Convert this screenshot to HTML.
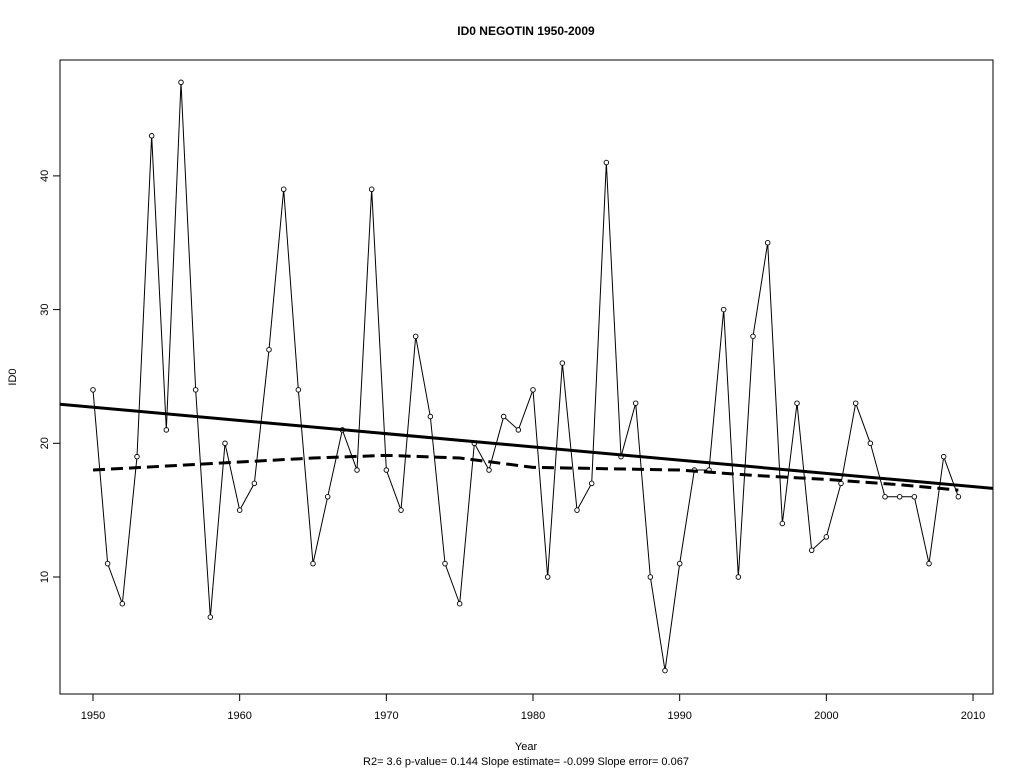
<!DOCTYPE html>
<html><head><meta charset="utf-8"><style>
body{margin:0;background:#fff;}
svg text{font-family:"Liberation Sans",Arial,sans-serif;font-size:11px;fill:#000;}
</style></head><body>
<svg id="chart" width="1024" height="768">
<text x="526" y="35" text-anchor="middle" font-weight="bold" style="font-size:12px">ID0   NEGOTIN 1950-2009</text>
<rect x="60" y="60" width="933" height="634" fill="none" stroke="#000"/>
<g id="xaxis"></g>
<g id="yaxis"></g>
<text x="526" y="750" text-anchor="middle">Year</text>
<text x="526" y="765" text-anchor="middle">R2= 3.6  p-value= 0.144  Slope estimate= -0.099  Slope error= 0.067</text>
<text transform="translate(16,377) rotate(-90)" text-anchor="middle">ID0</text>
<g id="marks"></g>
</svg>
<script>
const years=[];for(let y=1950;y<=2009;y++)years.push(y);
const values=[24,11,8,19,43,21,47,24,7,20,15,17,27,39,24,11,16,21,18,39,18,15,28,22,11,8,20,18,22,21,24,10,26,15,17,41,19,23,10,3,11,18,18,30,10,28,35,14,23,12,13,17,23,20,16,16,16,11,19,16];
const smoothYears=[1950,1955,1960,1965,1970,1975,1980,1985,1990,1995,2000,2005,2009];
const smoothValues=[18,18.3,18.6,18.9,19.1,18.9,18.2,18.1,18,17.6,17.3,16.9,16.5];
const trendIntercept=22.7, trendSlope=-0.099;
const xTicks=[1950,1960,1970,1980,1990,2000,2010];
const yTicks=[10,20,30,40];
const NS="http://www.w3.org/2000/svg";
const sx=y=>93+(y-1950)*14.667;
const sy=v=>577-(v-10)*13.37;
function mk(tag,attrs,parent){const e=document.createElementNS(NS,tag);for(const k in attrs)e.setAttribute(k,attrs[k]);parent.appendChild(e);return e;}
const marks=document.getElementById('marks');
const xa=document.getElementById('xaxis'),ya=document.getElementById('yaxis');
mk('line',{x1:sx(1950),x2:sx(2010),y1:694,y2:694,stroke:'#000'},xa);
xTicks.forEach(t=>{mk('line',{x1:sx(t),x2:sx(t),y1:694,y2:701,stroke:'#000'},xa);
 const tx=mk('text',{x:sx(t),y:719,'text-anchor':'middle'},xa);tx.textContent=t;
 
 });
mk('line',{x1:60,x2:60,y1:sy(10),y2:sy(40),stroke:'#000'},ya);
yTicks.forEach(t=>{mk('line',{x1:53,x2:60,y1:sy(t),y2:sy(t),stroke:'#000'},ya);
 const tx=mk('text',{transform:`translate(48,${sy(t)}) rotate(-90)`,'text-anchor':'middle'},ya);tx.textContent=t;
 
 });
const clip=mk('clipPath',{id:'pc'},marks);mk('rect',{x:60,y:60,width:933,height:634},clip);
const pl=mk('polyline',{points:years.map((y,i)=>sx(y)+','+sy(values[i])).join(' '),fill:'none',stroke:'#000','stroke-width':1},marks);


years.forEach((y,i)=>{const c=mk('circle',{cx:sx(y),cy:sy(values[i]),r:2.3,fill:'#fff',stroke:'#000','stroke-width':0.9},marks);
 
 });
const x0=1947.75,x1=2011.36;
const tl=mk('line',{x1:sx(x0),y1:sy(trendIntercept+trendSlope*(x0-1950)),x2:sx(x1),y2:sy(trendIntercept+trendSlope*(x1-1950)),stroke:'#000','stroke-width':3,'clip-path':'url(#pc)'},marks);


const sm=mk('polyline',{points:smoothYears.map((y,i)=>sx(y)+','+sy(smoothValues[i])).join(' '),fill:'none',stroke:'#000','stroke-width':3,'stroke-dasharray':'12,6'},marks);


</script>
</body></html>
